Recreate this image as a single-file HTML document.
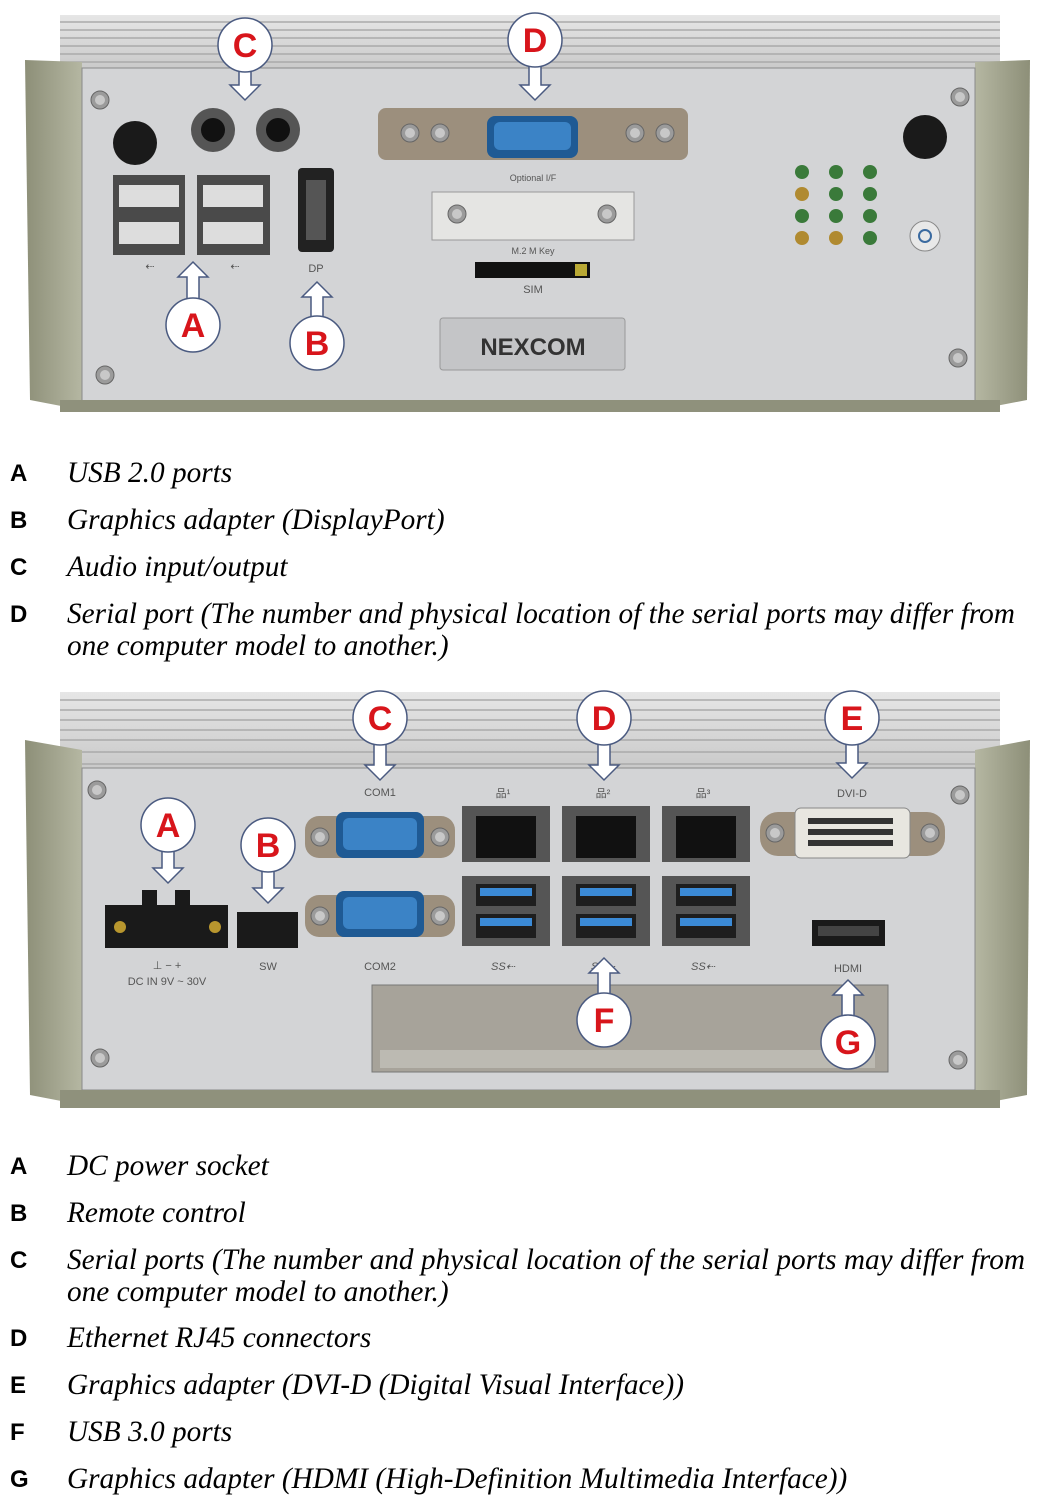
<!DOCTYPE html>
<html><head><meta charset="utf-8"><style>
html,body{margin:0;padding:0;background:#fff;width:1037px;height:1500px;overflow:hidden}
svg{display:block}
.L{font-family:"Liberation Sans",sans-serif;font-weight:bold;font-size:24px;fill:#000}
.T{font-family:"Liberation Serif",serif;font-style:italic;font-size:29.3px;fill:#000}
.cl{font-family:"Liberation Sans",sans-serif;font-weight:bold;font-size:34px;fill:#d8151b;text-anchor:middle}
.s{font-family:"Liberation Sans",sans-serif;font-size:11px;fill:#555;text-anchor:middle}
</style></head><body>
<svg width="1037" height="1500" viewBox="0 0 1037 1500" xmlns="http://www.w3.org/2000/svg">
<defs>
<linearGradient id="fin" x1="0" y1="0" x2="0" y2="1"><stop offset="0" stop-color="#e6e6e6"/><stop offset="1" stop-color="#c9c9c9"/></linearGradient>
<linearGradient id="side" x1="0" y1="0" x2="1" y2="0"><stop offset="0" stop-color="#8d8f78"/><stop offset="1" stop-color="#b5b7a2"/></linearGradient>
<linearGradient id="side2" x1="1" y1="0" x2="0" y2="0"><stop offset="0" stop-color="#8d8f78"/><stop offset="1" stop-color="#b5b7a2"/></linearGradient>
<g id="screw"><circle r="9" fill="#9b9b9b" stroke="#666"/><circle r="5" fill="#c8c8c8"/></g>
</defs>

<g>
<rect x="60" y="15" width="940" height="55" fill="url(#fin)"/>
<g stroke="#aaa" stroke-width="1.5">
<line x1="60" y1="22" x2="1000" y2="22"/><line x1="60" y1="30" x2="1000" y2="30"/><line x1="60" y1="38" x2="1000" y2="38"/><line x1="60" y1="46" x2="1000" y2="46"/><line x1="60" y1="54" x2="1000" y2="54"/><line x1="60" y1="62" x2="1000" y2="62"/></g>
<polygon points="25,60 82,62 82,410 30,400" fill="url(#side)"/>
<polygon points="1030,60 975,62 975,410 1027,400" fill="url(#side2)"/>
<rect x="82" y="68" width="893" height="333" fill="#d3d4d6" stroke="#8a8a8a"/>
<rect x="60" y="400" width="940" height="12" fill="#8f917c"/>
<use href="#screw" x="100" y="100"/><use href="#screw" x="960" y="97"/><use href="#screw" x="105" y="375"/><use href="#screw" x="958" y="358"/>
<circle cx="135" cy="143" r="22" fill="#1a1a1a"/><circle cx="925" cy="137" r="22" fill="#1a1a1a"/>
<circle cx="213" cy="130" r="22" fill="#555"/><circle cx="213" cy="130" r="12" fill="#111"/>
<circle cx="278" cy="130" r="22" fill="#555"/><circle cx="278" cy="130" r="12" fill="#111"/>
<rect x="113" y="175" width="72" height="80" fill="#4a4a4a"/><rect x="119" y="185" width="60" height="22" fill="#ddd"/><rect x="119" y="222" width="60" height="22" fill="#ddd"/>
<rect x="197" y="175" width="73" height="80" fill="#4a4a4a"/><rect x="203" y="185" width="60" height="22" fill="#ddd"/><rect x="203" y="222" width="60" height="22" fill="#ddd"/>
<rect x="298" y="168" width="36" height="84" rx="4" fill="#222"/><rect x="306" y="180" width="20" height="60" fill="#555"/>
<text class="s" x="316" y="272">DP</text>
<text class="s" x="150" y="270">⇠</text><text class="s" x="235" y="270">⇠</text>
<rect x="378" y="108" width="310" height="52" rx="8" fill="#9c8f7d"/>
<use href="#screw" x="410" y="133"/><use href="#screw" x="440" y="133"/><use href="#screw" x="635" y="133"/><use href="#screw" x="665" y="133"/>
<rect x="487" y="116" width="91" height="42" rx="8" fill="#1f5a94"/><rect x="494" y="122" width="77" height="28" rx="6" fill="#3b83c6"/>
<text class="s" x="533" y="181" style="font-size:9px">Optional I/F</text>
<rect x="432" y="192" width="202" height="48" fill="#e5e5e3" stroke="#999"/>
<use href="#screw" x="457" y="214"/><use href="#screw" x="607" y="214"/>
<text class="s" x="533" y="254" style="font-size:9px">M.2 M Key</text>
<rect x="475" y="262" width="115" height="16" fill="#111"/><rect x="575" y="264" width="12" height="12" fill="#b9a935"/>
<text class="s" x="533" y="293">SIM</text>
<rect x="440" y="318" width="185" height="52" rx="3" fill="#c4c5c7" stroke="#999"/>
<text x="533" y="355" text-anchor="middle" style="font-family:'Liberation Sans',sans-serif;font-weight:bold;font-size:24px;fill:#333">NEXCOM</text>
<g>
<circle cx="802" cy="172" r="7" fill="#3a7a3a"/><circle cx="836" cy="172" r="7" fill="#3a7a3a"/><circle cx="870" cy="172" r="7" fill="#3a7a3a"/>
<circle cx="802" cy="194" r="7" fill="#b08a30"/><circle cx="836" cy="194" r="7" fill="#3a7a3a"/><circle cx="870" cy="194" r="7" fill="#3a7a3a"/>
<circle cx="802" cy="216" r="7" fill="#3a7a3a"/><circle cx="836" cy="216" r="7" fill="#3a7a3a"/><circle cx="870" cy="216" r="7" fill="#3a7a3a"/>
<circle cx="802" cy="238" r="7" fill="#b08a30"/><circle cx="836" cy="238" r="7" fill="#b08a30"/><circle cx="870" cy="238" r="7" fill="#3a7a3a"/>
</g>
<circle cx="925" cy="236" r="15" fill="#e8e8e8" stroke="#888"/><circle cx="925" cy="236" r="6" fill="none" stroke="#3a6aa0" stroke-width="2"/>
</g>

<g>
<rect x="60" y="692" width="940" height="78" fill="url(#fin)"/>
<g stroke="#aaa" stroke-width="1.5">
<line x1="60" y1="700" x2="1000" y2="700"/><line x1="60" y1="710" x2="1000" y2="710"/><line x1="60" y1="720" x2="1000" y2="720"/><line x1="60" y1="730" x2="1000" y2="730"/><line x1="60" y1="740" x2="1000" y2="740"/><line x1="60" y1="752" x2="1000" y2="752"/><line x1="60" y1="764" x2="1000" y2="764"/></g>
<polygon points="25,740 82,750 82,1105 30,1095" fill="url(#side)"/>
<polygon points="1030,740 975,750 975,1105 1027,1095" fill="url(#side2)"/>
<rect x="82" y="768" width="893" height="322" fill="#d3d4d6" stroke="#8a8a8a"/>
<rect x="60" y="1090" width="940" height="18" fill="#8f917c"/>
<use href="#screw" x="97" y="790"/><use href="#screw" x="960" y="795"/><use href="#screw" x="100" y="1058"/><use href="#screw" x="958" y="1060"/>
<rect x="105" y="905" width="123" height="43" fill="#1a1a1a"/><rect x="142" y="890" width="15" height="16" fill="#1a1a1a"/><rect x="175" y="890" width="15" height="16" fill="#1a1a1a"/>
<circle cx="120" cy="927" r="6" fill="#b8962e"/><circle cx="215" cy="927" r="6" fill="#b8962e"/>
<text class="s" x="167" y="985">DC  IN  9V ~ 30V</text><text class="s" x="167" y="969">⊥  −  +</text>
<rect x="237" y="912" width="61" height="36" fill="#1a1a1a"/>
<text class="s" x="268" y="970">SW</text>
<text class="s" x="380" y="796">COM1</text><text class="s" x="380" y="970">COM2</text>
<rect x="305" y="816" width="150" height="42" rx="14" fill="#9c8f7d"/><rect x="336" y="812" width="88" height="46" rx="8" fill="#1f5a94"/><rect x="343" y="818" width="74" height="32" rx="6" fill="#3b83c6"/>
<use href="#screw" x="320" y="837"/><use href="#screw" x="440" y="837"/>
<rect x="305" y="895" width="150" height="42" rx="14" fill="#9c8f7d"/><rect x="336" y="891" width="88" height="46" rx="8" fill="#1f5a94"/><rect x="343" y="897" width="74" height="32" rx="6" fill="#3b83c6"/>
<use href="#screw" x="320" y="916"/><use href="#screw" x="440" y="916"/>
<g>
<rect x="462" y="806" width="88" height="56" fill="#555"/><rect x="476" y="816" width="60" height="42" fill="#111"/>
<rect x="562" y="806" width="88" height="56" fill="#555"/><rect x="576" y="816" width="60" height="42" fill="#111"/>
<rect x="662" y="806" width="88" height="56" fill="#555"/><rect x="676" y="816" width="60" height="42" fill="#111"/>
<rect x="462" y="876" width="88" height="70" fill="#555"/><rect x="476" y="884" width="60" height="22" fill="#1e1e1e"/><rect x="480" y="888" width="52" height="8" fill="#3b8ad6"/><rect x="476" y="914" width="60" height="24" fill="#1e1e1e"/><rect x="480" y="918" width="52" height="8" fill="#3b8ad6"/>
<rect x="562" y="876" width="88" height="70" fill="#555"/><rect x="576" y="884" width="60" height="22" fill="#1e1e1e"/><rect x="580" y="888" width="52" height="8" fill="#3b8ad6"/><rect x="576" y="914" width="60" height="24" fill="#1e1e1e"/><rect x="580" y="918" width="52" height="8" fill="#3b8ad6"/>
<rect x="662" y="876" width="88" height="70" fill="#555"/><rect x="676" y="884" width="60" height="22" fill="#1e1e1e"/><rect x="680" y="888" width="52" height="8" fill="#3b8ad6"/><rect x="676" y="914" width="60" height="24" fill="#1e1e1e"/><rect x="680" y="918" width="52" height="8" fill="#3b8ad6"/>
</g>
<text class="s" x="503" y="797">品¹</text><text class="s" x="603" y="797">品²</text><text class="s" x="703" y="797">品³</text>
<text class="s" x="503" y="970" style="font-style:italic">SS⇠</text><text class="s" x="603" y="970" style="font-style:italic">SS⇠</text><text class="s" x="703" y="970" style="font-style:italic">SS⇠</text>
<text class="s" x="852" y="797">DVI-D</text>
<rect x="760" y="812" width="185" height="44" rx="18" fill="#9c8f7d"/><rect x="795" y="808" width="115" height="50" rx="6" fill="#e8e6e0" stroke="#888"/>
<g fill="#333"><rect x="808" y="818" width="85" height="6"/><rect x="808" y="829" width="85" height="6"/><rect x="808" y="840" width="85" height="6"/></g>
<use href="#screw" x="775" y="833"/><use href="#screw" x="930" y="833"/>
<rect x="812" y="920" width="73" height="26" fill="#1a1a1a"/><rect x="818" y="926" width="61" height="10" fill="#444"/>
<text class="s" x="848" y="972">HDMI</text>
<rect x="372" y="985" width="516" height="87" fill="#a7a39a" stroke="#777"/>
<rect x="380" y="1050" width="495" height="18" fill="#bcbab2"/>
</g>

<g fill="#fff" stroke="#4a5a80" stroke-width="1.5">
<path d="M239,68 V85 H230 L245,100 L260,85 H251 V68 Z"/><circle cx="245" cy="45" r="27"/>
<path d="M529,63 V85 H520 L535,100 L550,85 H541 V63 Z"/><circle cx="535" cy="40" r="27"/>
<path d="M187,302 V277 H178 L193,262 L208,277 H199 V302 Z"/><circle cx="193" cy="325" r="27"/>
<path d="M311,320 V297 H302 L317,282 L332,297 H323 V320 Z"/><circle cx="317" cy="343" r="27"/>
<path d="M162,848 V868 H153 L168,883 L183,868 H174 V848 Z"/><circle cx="168" cy="825" r="27"/>
<path d="M262,868 V888 H253 L268,903 L283,888 H274 V868 Z"/><circle cx="268" cy="845" r="27"/>
<path d="M374,741 V765 H365 L380,780 L395,765 H386 V741 Z"/><circle cx="380" cy="718" r="27"/>
<path d="M598,741 V765 H589 L604,780 L619,765 H610 V741 Z"/><circle cx="604" cy="718" r="27"/>
<path d="M846,741 V763 H837 L852,778 L867,763 H858 V741 Z"/><circle cx="852" cy="718" r="27"/>
<path d="M598,997 V973 H589 L604,958 L619,973 H610 V997 Z"/><circle cx="604" cy="1020" r="27"/>
<path d="M842,1019 V995 H833 L848,980 L863,995 H854 V1019 Z"/><circle cx="848" cy="1042" r="27"/>
</g>
<g>
<text class="cl" x="245" y="57">C</text><text class="cl" x="535" y="52">D</text><text class="cl" x="193" y="337">A</text><text class="cl" x="317" y="355">B</text>
<text class="cl" x="168" y="837">A</text><text class="cl" x="268" y="857">B</text><text class="cl" x="380" y="730">C</text><text class="cl" x="604" y="730">D</text><text class="cl" x="852" y="730">E</text><text class="cl" x="604" y="1032">F</text><text class="cl" x="848" y="1054">G</text>
</g>

<text class="L" x="10" y="481">A</text><text class="T" x="67" y="482">USB 2.0 ports</text>
<text class="L" x="10" y="528">B</text><text class="T" x="67" y="529">Graphics adapter (DisplayPort)</text>
<text class="L" x="10" y="575">C</text><text class="T" x="67" y="576">Audio input/output</text>
<text class="L" x="10" y="622">D</text><text class="T" x="67" y="623" textLength="948" lengthAdjust="spacingAndGlyphs">Serial port (The number and physical location of the serial ports may differ from</text>
<text class="T" x="67" y="655">one computer model to another.)</text>

<text class="L" x="10" y="1174">A</text><text class="T" x="67" y="1175">DC power socket</text>
<text class="L" x="10" y="1221">B</text><text class="T" x="67" y="1222">Remote control</text>
<text class="L" x="10" y="1268">C</text><text class="T" x="67" y="1269" textLength="958" lengthAdjust="spacingAndGlyphs">Serial ports (The number and physical location of the serial ports may differ from</text>
<text class="T" x="67" y="1301">one computer model to another.)</text>
<text class="L" x="10" y="1346">D</text><text class="T" x="67" y="1347">Ethernet RJ45 connectors</text>
<text class="L" x="10" y="1393">E</text><text class="T" x="67" y="1394">Graphics adapter (DVI-D (Digital Visual Interface))</text>
<text class="L" x="10" y="1440">F</text><text class="T" x="67" y="1441">USB 3.0 ports</text>
<text class="L" x="10" y="1487">G</text><text class="T" x="67" y="1488">Graphics adapter (HDMI (High-Definition Multimedia Interface))</text>
</svg>
</body></html>
